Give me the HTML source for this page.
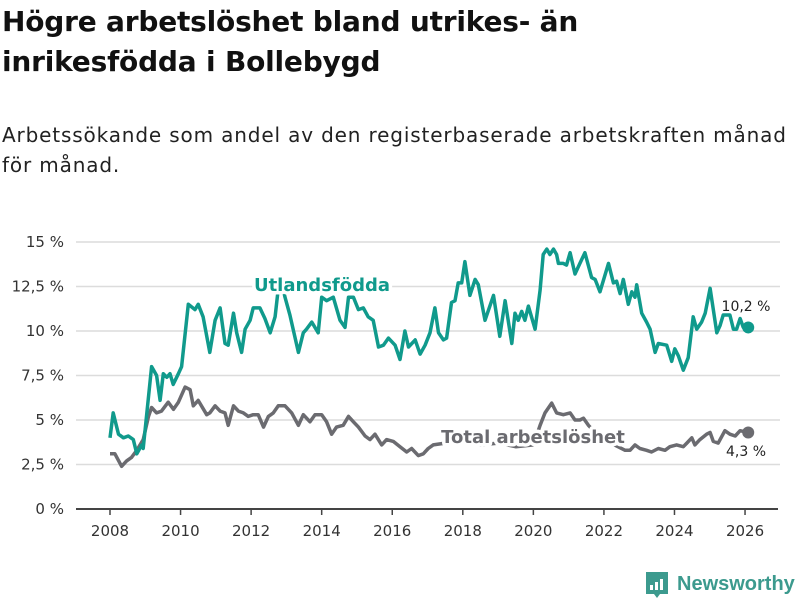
<!DOCTYPE html>
<html><head><meta charset="utf-8">
<style>
body{margin:0;background:#fff;font-family:"DejaVu Sans","Liberation Sans",sans-serif;}
#wrap{position:relative;width:800px;height:600px;overflow:hidden;}
h1{position:absolute;left:2px;top:2px;margin:0;font-size:28px;line-height:40px;font-weight:bold;color:#111;width:640px;letter-spacing:-0.2px}
#sub{position:absolute;left:2px;top:120px;font-size:20px;line-height:30px;color:#222;width:790px;letter-spacing:0.85px}
svg{position:absolute;left:0;top:0}
</style></head><body>
<div id="wrap">
<h1>Högre arbetslöshet bland utrikes- än inrikesfödda i Bollebygd</h1>
<div id="sub">Arbetssökande som andel av den registerbaserade arbetskraften månad för månad.</div>
<svg id="chart" width="800" height="600"></svg>
</div>
<script>
const yTicks=[0,2.5,5,7.5,10,12.5,15];
const yTickLabels=["0 %","2,5 %","5 %","7,5 %","10 %","12,5 %","15 %"];
const xTicks=[2008,2010,2012,2014,2016,2018,2020,2022,2024,2026];
const foreignDates=[2008.0,2008.09,2008.24,2008.38,2008.52,2008.66,2008.76,2008.90,2008.94,2009.18,2009.32,2009.42,2009.51,2009.61,2009.70,2009.79,2009.94,2010.03,2010.22,2010.41,2010.50,2010.64,2010.83,2010.98,2011.12,2011.26,2011.35,2011.50,2011.59,2011.73,2011.83,2011.97,2012.06,2012.25,2012.39,2012.54,2012.68,2012.77,2012.88,2012.96,2013.10,2013.34,2013.48,2013.57,2013.72,2013.90,2014.00,2014.14,2014.33,2014.52,2014.66,2014.76,2014.90,2015.04,2015.18,2015.32,2015.46,2015.61,2015.75,2015.89,2016.08,2016.22,2016.36,2016.46,2016.65,2016.79,2016.93,2017.07,2017.21,2017.31,2017.45,2017.54,2017.68,2017.78,2017.87,2017.97,2018.06,2018.20,2018.35,2018.44,2018.63,2018.87,2019.05,2019.20,2019.39,2019.48,2019.57,2019.67,2019.76,2019.86,2020.05,2020.19,2020.28,2020.38,2020.47,2020.57,2020.66,2020.71,2020.85,2020.94,2021.04,2021.18,2021.32,2021.46,2021.65,2021.75,2021.89,2022.13,2022.27,2022.36,2022.46,2022.55,2022.69,2022.79,2022.88,2022.93,2023.07,2023.21,2023.31,2023.45,2023.54,2023.78,2023.92,2024.01,2024.11,2024.25,2024.39,2024.53,2024.63,2024.77,2024.87,2025.01,2025.20,2025.29,2025.38,2025.57,2025.67,2025.76,2025.86,2025.95,2026.09];
const foreignValues=[4.0,5.4,4.2,4.0,4.1,3.9,3.1,3.6,3.4,8.0,7.5,6.1,7.6,7.4,7.6,7.0,7.6,8.0,11.5,11.2,11.5,10.8,8.8,10.6,11.3,9.3,9.2,11.0,9.9,8.8,10.1,10.6,11.3,11.3,10.7,9.9,10.8,12.4,12.6,11.9,10.9,8.8,9.9,10.1,10.5,9.9,11.9,11.7,11.9,10.6,10.2,11.9,11.9,11.2,11.3,10.8,10.6,9.1,9.2,9.6,9.2,8.4,10.0,9.1,9.5,8.7,9.2,9.9,11.3,9.9,9.5,9.6,11.6,11.7,12.7,12.7,13.9,12.0,12.9,12.6,10.6,12.0,9.7,11.7,9.3,11.0,10.6,11.1,10.6,11.4,10.1,12.3,14.3,14.6,14.3,14.6,14.3,13.8,13.8,13.7,14.4,13.2,13.8,14.4,13.0,12.9,12.2,13.8,12.7,12.8,12.1,12.9,11.5,12.2,11.9,12.6,11.0,10.5,10.1,8.8,9.3,9.2,8.3,9.0,8.6,7.8,8.5,10.8,10.1,10.5,11.0,12.4,9.9,10.3,10.9,10.9,10.1,10.1,10.7,10.2,10.2];
const totalDates=[2008.0,2008.14,2008.33,2008.47,2008.61,2008.76,2008.94,2009.09,2009.18,2009.32,2009.46,2009.65,2009.80,2009.94,2010.13,2010.27,2010.36,2010.50,2010.74,2010.83,2010.98,2011.12,2011.26,2011.35,2011.50,2011.64,2011.78,2011.92,2012.06,2012.20,2012.35,2012.49,2012.63,2012.77,2012.96,2013.15,2013.34,2013.48,2013.67,2013.81,2014.00,2014.14,2014.28,2014.42,2014.61,2014.76,2014.90,2015.04,2015.23,2015.37,2015.51,2015.70,2015.84,2016.03,2016.22,2016.41,2016.55,2016.74,2016.88,2017.02,2017.16,2017.5,2018.0,2018.5,2019.0,2019.5,2020.0,2020.19,2020.33,2020.52,2020.66,2020.85,2021.04,2021.18,2021.32,2021.42,2021.56,2021.8,2022.1,2022.4,2022.60,2022.74,2022.88,2023.02,2023.21,2023.35,2023.54,2023.73,2023.87,2024.06,2024.25,2024.35,2024.49,2024.58,2024.72,2024.91,2025.01,2025.10,2025.24,2025.43,2025.57,2025.72,2025.86,2026.09];
const totalValues=[3.1,3.1,2.4,2.7,2.9,3.3,3.9,5.2,5.7,5.4,5.5,6.0,5.6,6.0,6.85,6.7,5.8,6.1,5.3,5.4,5.8,5.5,5.4,4.7,5.8,5.5,5.4,5.2,5.3,5.3,4.6,5.2,5.4,5.8,5.8,5.4,4.7,5.3,4.9,5.3,5.3,4.9,4.2,4.6,4.7,5.2,4.9,4.6,4.1,3.9,4.2,3.6,3.9,3.8,3.5,3.2,3.4,3.0,3.1,3.4,3.6,3.7,3.8,3.6,3.7,3.5,3.6,4.7,5.4,5.95,5.4,5.3,5.4,5.0,5.0,5.1,4.7,4.2,3.8,3.5,3.3,3.3,3.6,3.4,3.3,3.2,3.4,3.3,3.5,3.6,3.5,3.7,4.0,3.6,3.9,4.2,4.3,3.8,3.7,4.4,4.2,4.1,4.4,4.3];
const NS="http://www.w3.org/2000/svg";
const svg=document.getElementById('chart');
const X=t=>110+(t-2008)*35.28;
const Y=v=>509-v*17.8;
function el(tag,attrs,parent){const e=document.createElementNS(NS,tag);for(const k in attrs)e.setAttribute(k,attrs[k]);(parent||svg).appendChild(e);return e;}
yTicks.forEach((v,i)=>{
  if(v>0){const g=el('line',{x1:76,x2:780,y1:Y(v),y2:Y(v),stroke:'#dcdcdc','stroke-width':1.5});
  
  }
  const t=el('text',{x:64,y:Y(v)+5,'text-anchor':'end','font-size':15,fill:'#333'});
  t.textContent=yTickLabels[i];
  
  
});
const ax=el('line',{x1:76,x2:778,y1:509,y2:509,stroke:'#444','stroke-width':2});


xTicks.forEach(yr=>{
  const tk=el('line',{x1:X(yr),x2:X(yr),y1:509,y2:515,stroke:'#444','stroke-width':1.5});
  
  
  const t=el('text',{x:X(yr),y:536,'text-anchor':'middle','font-size':15,fill:'#333'});
  t.textContent=yr;
  
  
});
function series(dates,vals,color,name){
  const d=dates.map((t,i)=>(i?'L':'M')+X(t).toFixed(1)+' '+Y(vals[i]).toFixed(1)).join('');
  const p=el('path',{d:d,fill:'none',stroke:color,'stroke-width':3.5,'stroke-linejoin':'round'});
  
  
  const n=dates.length-1;
  const c=el('circle',{cx:X(dates[n]),cy:Y(vals[n]),r:6,fill:color});
  
  
}
series(totalDates,totalValues,'#6b6b70','total');
series(foreignDates,foreignValues,'#109a8c','foreign-born');
function label(txt,x,y,color,size,bold,anchor,name){
  const t=el('text',{x:x,y:y,'text-anchor':anchor,'font-size':size,'font-weight':bold?'bold':'normal',fill:color,stroke:'#fff','stroke-width':bold?7:4,'paint-order':'stroke','stroke-linejoin':'round'});
  t.textContent=txt;
  
  
}
label('Utlandsfödda',322,291,'#109a8c',18,true,'middle','foreign-born-label');
label('Total arbetslöshet',533,443,'#6b6b70',18,true,'middle','total-label');
label('10,2 %',746,311,'#222',14,false,'middle','foreign-born-end-value');
label('4,3 %',746,456,'#222',14,false,'middle','total-end-value');
const lg=el('g',{});


el('path',{d:'M646 572h22v22h-8l-3 4-3-4h-8z',fill:'#3c9a8e'},lg);
el('rect',{x:650,y:585,width:3,height:5,fill:'#fff'},lg);
el('rect',{x:655,y:582,width:3,height:8,fill:'#fff'},lg);
el('rect',{x:660,y:579,width:3,height:11,fill:'#fff'},lg);
const lt=el('text',{x:677,y:590,'font-size':20,'font-weight':'bold',fill:'#3c9a8e','font-family':'Liberation Sans, sans-serif'},lg);
lt.textContent='Newsworthy';
</script>
</body></html>
